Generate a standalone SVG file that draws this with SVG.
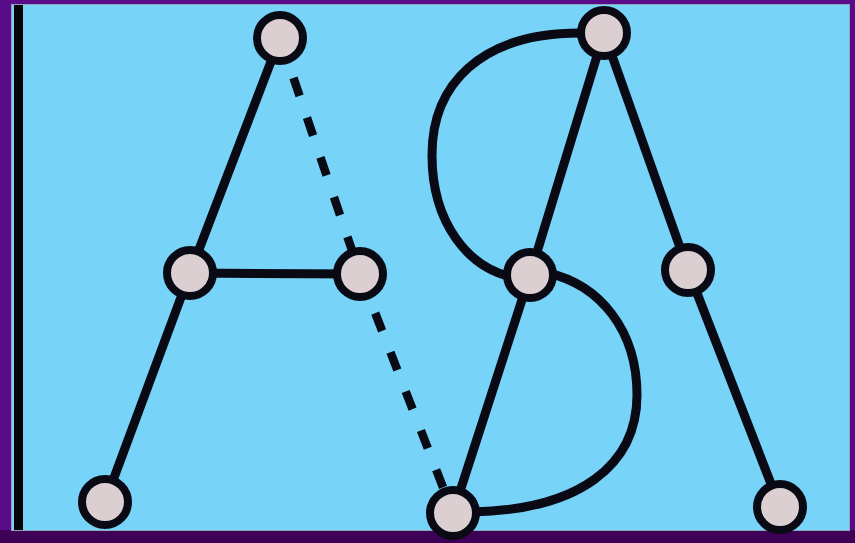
<svg xmlns="http://www.w3.org/2000/svg" width="855" height="543" viewBox="0 0 855 543">
<style>
.e{stroke:#0a0a14;stroke-width:9;fill:none;stroke-linecap:round}
.d{stroke:#0a0a14;stroke-width:8.5;fill:none;stroke-dasharray:19 23}
.n{fill:#dbcfd2;stroke:#0a0a14;stroke-width:8}
</style>
<rect x="0" y="0" width="855" height="543" fill="#5a0b8a"/>
<rect x="0" y="530" width="855" height="13" fill="#3f0058"/>
<rect x="11" y="4" width="839" height="527" fill="#8fa6b8"/>
<rect x="12" y="5" width="837" height="525" fill="#77d3f8"/>
<rect x="14" y="5" width="9" height="525" fill="#050505"/>
<g id="connectors">
<line class="e" x1="280" y1="38" x2="190" y2="273"/>
<line class="e" x1="190" y1="273" x2="105" y2="502"/>
<line class="e" x1="190" y1="273" x2="360" y2="274"/>
<line class="d" x1="280" y1="38" x2="360" y2="274"/>
<line class="d" x1="360" y1="274" x2="453" y2="513"/>
<line class="e" x1="604" y1="33" x2="530" y2="275"/>
<line class="e" x1="530" y1="275" x2="453" y2="513"/>
<line class="e" x1="604" y1="33" x2="688" y2="270"/>
<line class="e" x1="688" y1="270" x2="780" y2="507"/>
<path class="e" d="M 580 33 C 480 33, 432 85, 432 155 C 432 225, 470 268, 512 277"/>
<path class="e" d="M 548 273 C 600 285, 637 330, 637 395 C 637 465, 580 510, 472 512"/>
</g>
<g id="n1"><circle class="n" cx="280" cy="38" r="23"/></g>
<g id="n2"><circle class="n" cx="190" cy="273" r="23"/></g>
<g id="n3"><circle class="n" cx="360" cy="274" r="23"/></g>
<g id="n4"><circle class="n" cx="105" cy="502" r="23"/></g>
<g id="n5"><circle class="n" cx="453" cy="513" r="23"/></g>
<g id="n6"><circle class="n" cx="604" cy="33" r="23"/></g>
<g id="n7"><circle class="n" cx="530" cy="275" r="23"/></g>
<g id="n8"><circle class="n" cx="688" cy="270" r="23"/></g>
<g id="n9"><circle class="n" cx="780" cy="507" r="23"/></g>
</svg>
